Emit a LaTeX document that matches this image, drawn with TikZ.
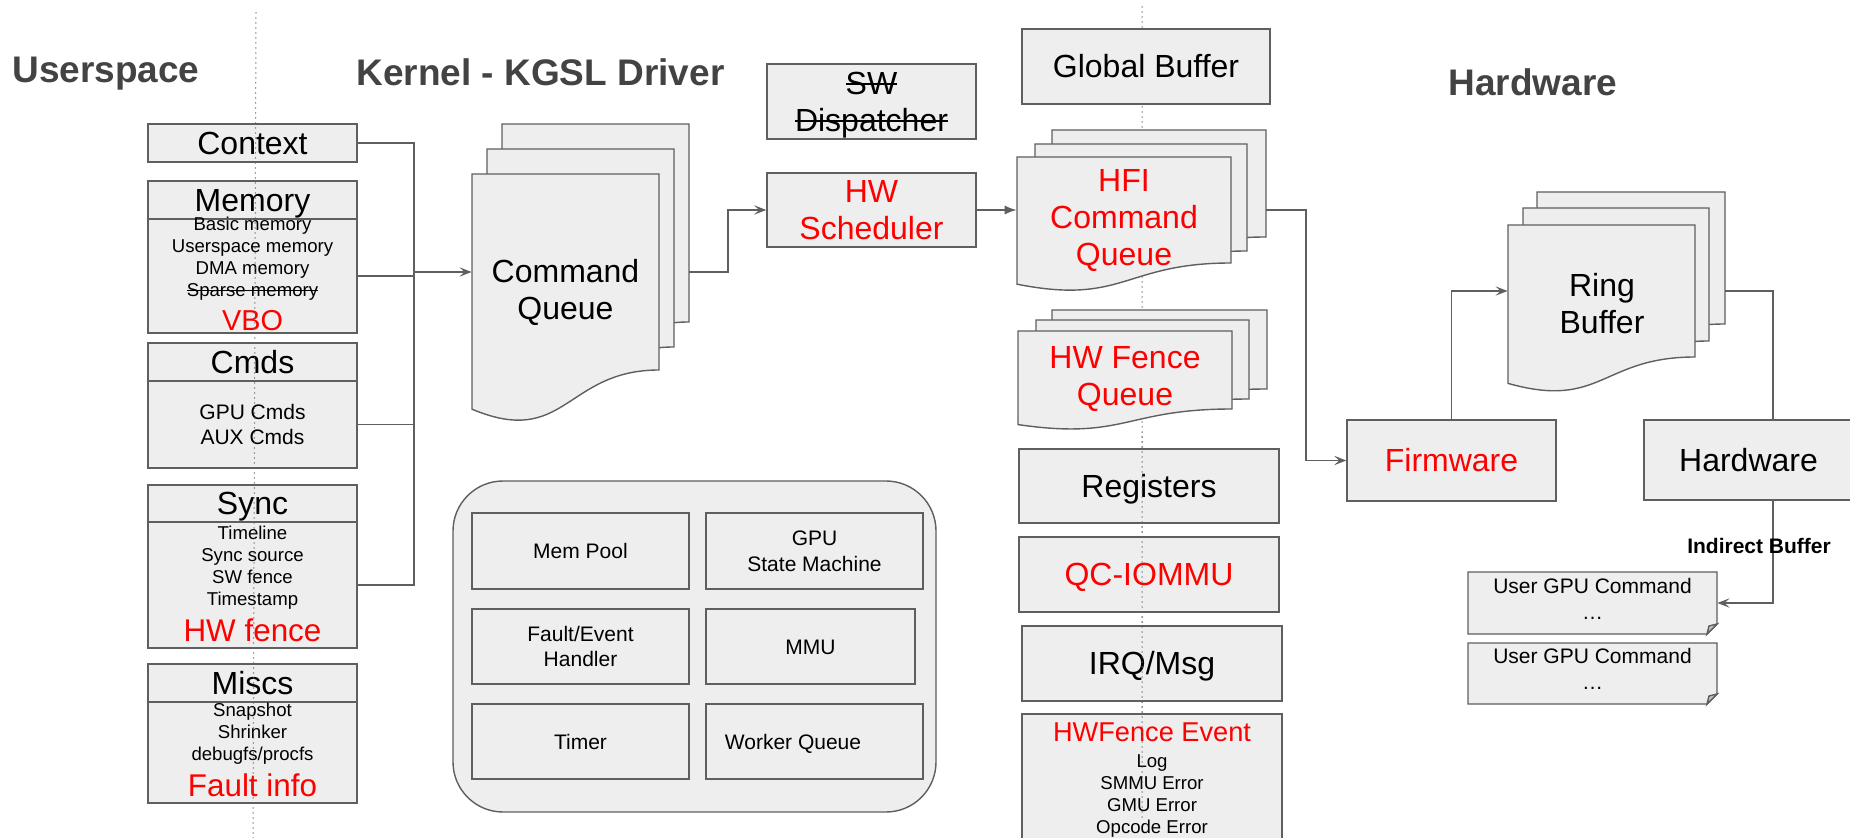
\documentclass[tikz,border=0pt]{standalone}
\usepackage{fontspec}
\setmainfont{Liberation Sans}
\usetikzlibrary{arrows.meta,fit,calc}

\definecolor{boxfill}{HTML}{EEEEEE}
\definecolor{edgegray}{HTML}{5F5F5F}
\definecolor{titlegray}{HTML}{434343}
\definecolor{hot}{HTML}{FF0000}
\definecolor{foldgray}{HTML}{C4C4C4}
\definecolor{dotgray}{HTML}{666666}

\newcommand\bigtxt{\fontsize{16pt}{18.5pt}\selectfont}
\newcommand\redtxt{\fontsize{15.7pt}{18pt}\selectfont\color{hot}}
\newcommand\smalltxt{\fontsize{9.3pt}{10.9pt}\selectfont}
\newcommand\boxtxt{\fontsize{10.5pt}{12.8pt}\selectfont}
\newcommand\titletxt{\fontsize{18.5pt}{22pt}\selectfont\bfseries}

% struck-through text: optional rule thickness, text
\newcommand\strike[2][0.8pt]{\setbox0\hbox{#2}\leavevmode\rlap{\rule[0.55ex]{\wd0}{#1}}\box0}

\tikzset{
  panel/.style={draw=edgegray, fill=boxfill, line width=0.7pt},
  cell/.style={panel, inner sep=0pt},
  conn/.style={draw=edgegray, line width=0.7pt},
  barb/.style={-{Stealth[length=6pt,width=4.6pt,inset=2.4pt]}},
  solidtip/.style={-{Latex[length=6pt,width=4.6pt]}},
  dotted rule/.style={draw=dotgray, line width=0.75pt, line cap=round, dash pattern=on 0pt off 2.5pt},
  heading/.style={anchor=base west, font=\titletxt, text=titlegray, inner sep=0pt},
  big line/.style={inner sep=0pt, anchor=base, yshift=-5.73pt, font=\bigtxt},
  small line/.style={inner sep=0pt, anchor=base, yshift=-3.76pt, font=\boxtxt},
  big block/.style={inner sep=0pt, align=center, font=\bigtxt},
  small block/.style={inner sep=0pt, align=center, font=\boxtxt},
  list block/.style={inner sep=0pt, align=center, anchor=north, font=\smalltxt},
}

% page with a wavy lower edge: left x, right x, top y, y of the lower right corner
\newcommand\docpage[4]{%
  \pgfmathsetmacro\dpL{#3+1.2*(#4-#3)}%
  \pgfmathsetmacro\dpC{#3+1.4*(#4-#3)}%
  \pgfmathsetmacro\dpM{(#1+#2)/2}%
  \draw[panel] (#1,#3) -- (#2,#3) -- (#2,#4)
     .. controls (\dpM,#4) and (\dpM,\dpC) .. (#1,\dpL) -- cycle;}

% note card with a folded lower right corner: x1, y1, x2, y2
\newcommand\notecard[4]{%
  \draw[panel] (#1,#2) -- (#3,#2) -- (#3,#4-10) -- (#3-10,#4) -- (#1,#4) -- cycle;
  \draw[panel, fill=foldgray] (#3-10,#4) -- (#3-8,#4-8) -- (#3,#4-10) -- cycle;}

\begin{document}
\begin{tikzpicture}[x=0.5pt, y=-0.5pt]
\useasboundingbox (0,0) rectangle (1850,838);

% boundary between kernel and hardware (behind the upper blocks)
\draw[dotted rule] (1142,7) -- (1142,817);

% headings
\node[heading] (tuser) at (12,83) {Userspace};
\node[heading] (tkern) at (356,86) {Kernel - KGSL Driver};
\node[heading] (thw) at (1448,96) {Hardware};

% ---------------- userspace objects ----------------
\node[cell, fit={(148,124) (357,162)}] (ctx) {};
\node[big line] (ctxt) at (ctx.center) {Context};

\node[cell, fit={(148,181) (357,219)}] (memh) {};
\node[big line] (memht) at (memh.center) {Memory};
\node[cell, fit={(148,219) (357,333)}] (memb) {};
\node[list block] (memt) at (252.5,217)
  {Basic memory\\Userspace memory\\DMA memory\\\strike[0.5pt]{Sparse memory}\\[4pt]{\fontsize{14.4pt}{17pt}\selectfont\color{hot}VBO}};

\node[cell, fit={(148,343) (357,381)}] (cmdsh) {};
\node[big line] (cmdsht) at (cmdsh.center) {Cmds};
\node[cell, fit={(148,381) (357,468)}] (cmdsb) {};
\node[small block] (cmdst) at (cmdsb.center) {GPU Cmds\\AUX Cmds};

\node[cell, fit={(148,485) (357,522)}] (synch) {};
\node[big line] (syncht) at (synch.center) {Sync};
\node[cell, fit={(148,522) (357,648)}] (syncb) {};
\node[list block] (synct) at (252.5,526)
  {Timeline\\Sync source\\SW fence\\Timestamp\\[3.6pt]{\redtxt HW fence}};

\node[cell, fit={(148,664) (357,702)}] (misch) {};
\node[big line] (mischt) at (misch.center) {Miscs};
\node[cell, fit={(148,702) (357,803)}] (miscb) {};
\node[list block] (misct) at (252.5,703)
  {Snapshot\\Shrinker\\debugfs/procfs\\[3.6pt]{\redtxt Fault info}};

% ---------------- kernel driver ----------------
\docpage{502}{689}{124}{322}
\docpage{487}{674}{149}{347}
\docpage{472}{659}{174}{370}
\node[fit={(472,174) (689,370)}, inner sep=0pt] (cqstack) {};
\node[big block] (cq) at (565.5,292) {Command\\Queue};

\node[cell, fit={(767,64) (976,139)}] (swd) {};
\node[big block, yshift=-1.6pt] (swdt) at (swd.center) {\strike{SW}\\\strike{Dispatcher}};
\node[cell, fit={(767,173) (976,247)}] (hws) {};
\node[big block, text=hot] (hwst) at (hws.center) {HW\\Scheduler};

\node[cell, rounded corners=25pt, fit={(453,481) (936,812)}] (grp) {};
\node[cell, fit={(472,513) (689,589)}] (mempool) {};
\node[small line] (mempoolt) at (mempool.center) {Mem Pool};
\node[cell, fit={(706,513) (923,589)}] (gsm) {};
\node[small block] (gsmt) at (gsm.center) {GPU\\State Machine};
\node[cell, fit={(472,609) (689,684)}] (feh) {};
\node[small block] (feht) at (feh.center) {Fault/Event\\Handler};
\node[cell, fit={(706,609) (915,684)}] (mmu) {};
\node[small line] (mmut) at (mmu.center) {MMU};
\node[cell, fit={(472,704) (689,779)}] (tmr) {};
\node[small line] (tmrt) at (tmr.center) {Timer};
\node[cell, fit={(706,704) (923,779)}] (wq) {};
\node[small line] (wqt) at (wq.center -| 793,0) {Worker Queue};

% ---------------- shared with hardware ----------------
\node[cell, fit={(1022,29) (1270,104)}] (gbuf) {};
\node[big line] (gbuft) at (gbuf.center) {Global Buffer};

\docpage{1052}{1266}{130}{237}
\docpage{1035}{1247}{144}{251}
\docpage{1017}{1231}{157}{263}
\node[fit={(1017,157) (1266,263)}, inner sep=0pt] (hfistack) {};
\node[big block, text=hot] (hfi) at (1124,221) {HFI\\Command\\Queue};

\docpage{1052}{1267}{310}{389}
\docpage{1036}{1249}{320}{399}
\docpage{1018}{1232}{331}{409}
\node[big block, text=hot] (hwfq) at (1125,379) {HW Fence\\Queue};

\node[cell, fit={(1019,449) (1279,523)}] (regs) {};
\node[big line] (regst) at (regs.center) {Registers};
\node[cell, fit={(1019,537) (1279,612)}] (iommu) {};
\node[big line, text=hot] (iommut) at (iommu.center) {QC-IOMMU};
\node[cell, fit={(1022,626) (1282,701)}] (irq) {};
\node[big line] (irqt) at (irq.center) {IRQ/Msg};
\node[cell, fit={(1022,714) (1282,900)}] (hwfe) {};
\node[list block] (hwfet) at (1152,722)
  {{\fontsize{13.6pt}{16pt}\selectfont\color{hot}HWFence Event}\\[2.5pt]Log\\SMMU Error\\GMU Error\\Opcode Error};

% ---------------- hardware ----------------
\node[cell, fit={(1347,420) (1556,501)}] (fw) {};
\node[big line, text=hot] (fwt) at (fw.center) {Firmware};

\docpage{1537}{1725}{192}{324}
\docpage{1523}{1709}{208}{341}
\docpage{1508}{1695}{225}{357}
\node[fit={(1508,225) (1725,357)}, inner sep=0pt] (ringstack) {};
\node[big block] (ring) at (1602,304) {Ring\\Buffer};

\node[cell, fit={(1644,420) (1853,500)}] (hw) {};
\node[big line] (hwt) at (hw.center) {Hardware};

\notecard{1468}{572}{1717}{634}
\node[fit={(1468,572) (1717,634)}, inner sep=0pt] (ucmd1) {};
\node[small block, anchor=north] (ucmd1t) at (1592.5,578) {User GPU Command\\…};
\notecard{1468}{643}{1717}{704}
\node[fit={(1468,643) (1717,704)}, inner sep=0pt] (ucmd2) {};
\node[small block, anchor=north] (ucmd2t) at (1592.5,648) {User GPU Command\\…};

% ---------------- connectors ----------------
\coordinate (bus) at (414,272);
\draw[conn] (ctx.east) -| (bus) |- (syncb.east);
\draw[conn] (memb.east) -- (memb.east -| bus);
\draw[conn] (cmdsb.east) -- (cmdsb.east -| bus);
\draw[conn, barb] (bus) -- (cqstack.west);

\coordinate (cqturn) at (728,272);
\draw[conn, barb] (cqstack.east) -- (cqturn) |- (hws.west);
\draw[conn, solidtip] (hws.east) -- (hws.east -| hfistack.west);

\coordinate (hfiturn) at (1306,210);
\draw[conn, barb] (hfistack.east) -- (hfiturn) |- (fw.west);
\draw[conn, barb] (fw.north) |- (ringstack.west);

\coordinate (ringturn) at (1773,291);
\draw[conn] (ringstack.east) -- (ringturn) -- (ringturn |- hw.north);
\draw[conn, barb] (ringturn |- hw.south) |- (ucmd1.east);
\node[small line, font=\boxtxt\bfseries] (ibuf) at (1759,546) {Indirect Buffer};

% dotted boundaries drawn over the lower blocks
\begin{scope}
  \clip (1100,433) rectangle (1200,838);
  \draw[dotted rule] (1142,7) -- (1142,817);
\end{scope}
\draw[dotted rule] (256,13) -- (253,838);
\end{tikzpicture}
\end{document}
